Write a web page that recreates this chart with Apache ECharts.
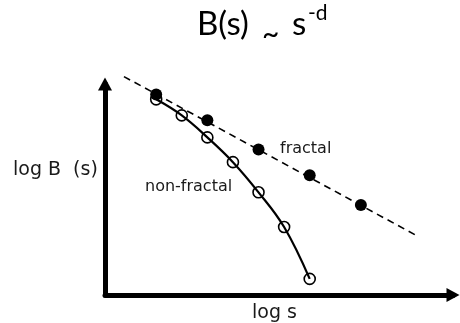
<!DOCTYPE html>
<html>
<head>
<meta charset="utf-8">
<script src="https://cdn.jsdelivr.net/npm/echarts@6/dist/echarts.min.js"></script>
<style>
  html, body { margin: 0; padding: 0; background: #fff; }
  #chart { width: 460px; height: 323px; }
</style>
</head>
<body>
<div id="chart"></div>
<script>
// log s of the sampled box sizes
const fractalX = [2, 4, 6, 8, 10];
const fractalY = [7.85, 6.84, 5.70, 4.69, 3.52];
const nonFractalX = [2, 3, 4, 5, 6, 7, 8];
const nonFractalY = [7.66, 7.03, 6.17, 5.20, 4.02, 2.66, 0.63];
// straight power-law guide B(s) ~ s^-d, given by its two end points
const powerLawX = [0.74, 12.15];
const powerLawY = [8.55, 2.34];

const zip = (xs, ys) => xs.map((x, i) => [x, ys[i]]);

const labelFont = 'DejaVu Sans';
const titleFont = 'Lato';
const ink = '#1a1a1a';

const chart = echarts.init(document.getElementById('chart'), null, { renderer: 'canvas' });

const axisCommon = {
  type: 'value',
  axisLine: {
    show: true,
    symbol: ['none', 'triangle'],
    symbolSize: [14, 13],
    lineStyle: { color: '#000', width: 5 }
  },
  axisTick: { show: false },
  axisLabel: { show: false },
  splitLine: { show: false }
};

function label(text, left, top, size, family, color) {
  return {
    type: 'text', left: left, top: top,
    style: { text: text, fontSize: size, fontFamily: family, fill: color }
  };
}

chart.setOption({
  animation: false,
  grid: { left: 105, right: 7, top: 84, bottom: 28 },
  xAxis: Object.assign({}, axisCommon, { min: 0, max: 13.6 }),
  yAxis: Object.assign({}, axisCommon, { min: 0, max: 8.26 }),
  series: [
    {
      name: 'power law',
      type: 'line',
      data: zip(powerLawX, powerLawY),
      symbol: 'none',
      clip: false,
      silent: true,
      lineStyle: { color: '#000', width: 1.6, type: [7, 5] },
      z: 2
    },
    {
      name: 'non-fractal',
      type: 'line',
      data: zip(nonFractalX, nonFractalY),
      smooth: 0.4,
      symbol: 'circle',
      symbolSize: 11,
      showAllSymbol: true,
      clip: false,
      itemStyle: { color: 'rgba(0,0,0,0)', borderColor: '#000', borderWidth: 1.6, opacity: 1 },
      lineStyle: { color: '#000', width: 2.2 },
      z: 3
    },
    {
      name: 'fractal',
      type: 'scatter',
      data: zip(fractalX, fractalY),
      symbol: 'circle',
      symbolSize: 12,
      clip: false,
      itemStyle: { color: '#000', opacity: 1 },
      z: 4
    }
  ],
  graphic: [
    // title: B(s) ~ s^-d
    label('B(s)', 197, 8, 33, titleFont, '#000'),
    label('~', 262, 19, 30, titleFont, '#000'),
    label('s', 292, 8, 33, titleFont, '#000'),
    label('-d', 308, 3, 21, titleFont, '#000'),
    // axis names
    label('log B  (s)', 13, 161, 19, labelFont, ink),
    label('log s', 252, 304, 19, labelFont, ink),
    // series labels
    label('fractal', 280, 141, 16, labelFont, ink),
    label('non-fractal', 145, 179, 16, labelFont, ink)
  ]
});
</script>
</body>
</html>
